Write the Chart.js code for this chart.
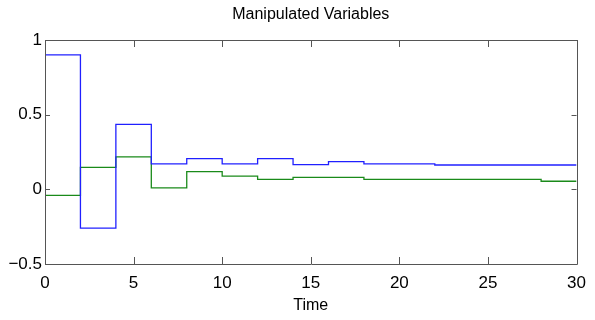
<!DOCTYPE html>
<html>
<head>
<meta charset="utf-8">
<script src="https://cdn.jsdelivr.net/npm/chart.js@4/dist/chart.umd.min.js"></script>
<style>
    html, body { margin: 0; padding: 0; background: #fff; }
    #wrap { width: 595px; height: 320px; }
</style>
</head>
<body>
<div id="wrap"><canvas id="mvChart"></canvas></div>
<script>
// sample instants (zero-order hold, Ts = 2)
const timeSteps = [0, 2, 4, 6, 8, 10, 12, 14, 16, 18, 20, 22, 24, 26, 28, 30];
// manipulated variable 1 (blue)
const u1Values = [0.90, -0.26, 0.435, 0.17, 0.205, 0.17, 0.205, 0.165, 0.185, 0.17, 0.17, 0.163, 0.163, 0.163, 0.163, 0.163];
// manipulated variable 2 (green)
const u2Values = [-0.04, 0.147, 0.218, 0.01, 0.118, 0.089, 0.067, 0.080, 0.080, 0.067, 0.067, 0.067, 0.067, 0.067, 0.054, 0.054];
const xTicks = [0, 5, 10, 15, 20, 25, 30];
const yTicks = [-0.5, 0, 0.5, 1];

const toPoints = (vals) => vals.map((v, i) => ({ x: timeSteps[i], y: v }));

// MATLAB-like box with inward ticks on all four sides
const matlabBox = {
    id: 'matlabBox',
    afterDatasetsDraw(chart) {
        const { ctx, chartArea: a, scales } = chart;
        ctx.save();
        ctx.strokeStyle = '#555';
        ctx.lineWidth = 1;
        ctx.beginPath();
        ctx.rect(Math.round(a.left) + 0.5, Math.round(a.top) + 0.5,
                 Math.round(a.right - a.left), Math.round(a.bottom - a.top));
        ctx.stroke();
        ctx.beginPath();
        xTicks.forEach(t => {
            const px = Math.round(scales.x.getPixelForValue(t)) + 0.5;
            ctx.moveTo(px, a.bottom); ctx.lineTo(px, a.bottom - 7);
            ctx.moveTo(px, a.top); ctx.lineTo(px, a.top + 7);
        });
        yTicks.forEach(t => {
            const py = Math.round(scales.y.getPixelForValue(t)) + 0.5;
            ctx.moveTo(a.left, py); ctx.lineTo(a.left + 5, py);
            ctx.moveTo(a.right, py); ctx.lineTo(a.right - 5, py);
        });
        ctx.stroke();
        ctx.restore();
    }
};

const ctx = document.getElementById('mvChart').getContext('2d');
new Chart(ctx, {
    type: 'line',
    data: {
        datasets: [
            {
                label: 'u1',
                data: toPoints(u1Values),
                xAxisID: 'x',
                borderColor: '#2020ff',
                borderWidth: 1.3,
                stepped: 'before', // hold value until next sample
                pointRadius: 0,
                fill: false
            },
            {
                label: 'u2',
                data: toPoints(u2Values),
                xAxisID: 'x',
                borderColor: '#1a8a1a',
                borderWidth: 1.3,
                stepped: 'before',
                pointRadius: 0,
                fill: false
            }
        ]
    },
    options: {
        responsive: true,
        maintainAspectRatio: false,
        animation: false,
        layout: { padding: { left: 0, right: 16, top: 0, bottom: 0 } },
        plugins: {
            legend: { display: false },
            tooltip: { enabled: false }
        },
        scales: {
            x: {
                type: 'linear',
                min: 0,
                max: 30,
                afterBuildTicks: (scale) => { scale.ticks = xTicks.map(v => ({ value: v })); },
                afterFit: (scale) => { scale.height = 56; },
                grid: { display: false, drawTicks: false },
                border: { display: false },
                ticks: {
                    color: '#000',
                    padding: 9,
                    maxRotation: 0,
                    font: { family: "'Liberation Sans', Arial, sans-serif", size: 17 }
                },
                title: {
                    display: true,
                    text: 'Time',
                    color: '#000',
                    padding: { top: 0, bottom: 5 },
                    font: { family: "'Liberation Sans', Arial, sans-serif", size: 16 }
                }
            },
            xTop: {
                type: 'linear',
                position: 'top',
                min: 0,
                max: 30,
                afterFit: (scale) => { scale.height = 40; },
                grid: { display: false, drawTicks: false },
                border: { display: false },
                ticks: { display: false },
                title: {
                    display: true,
                    text: 'Manipulated Variables',
                    color: '#000',
                    padding: { top: 5, bottom: 0 },
                    font: { family: "'Liberation Sans', Arial, sans-serif", size: 16 }
                }
            },
            y: {
                min: -0.5,
                max: 1,
                afterBuildTicks: (scale) => { scale.ticks = yTicks.map(v => ({ value: v })); },
                afterFit: (scale) => { scale.width = 45; },
                grid: { display: false, drawTicks: false },
                border: { display: false },
                ticks: {
                    color: '#000',
                    padding: 3,
                    font: { family: "'Liberation Sans', Arial, sans-serif", size: 17 },
                    callback: (v) => (v < 0 ? '\u2212' + Math.abs(v) : String(v))
                }
            }
        }
    },
    plugins: [matlabBox]
});
</script>
</body>
</html>
